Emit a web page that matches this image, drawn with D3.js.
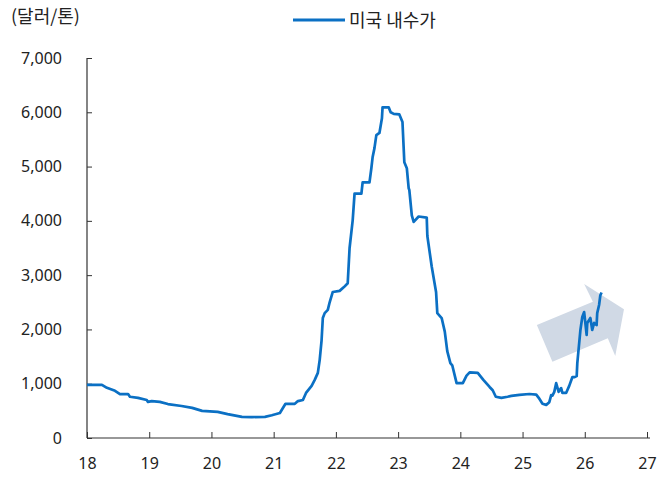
<!DOCTYPE html>
<html>
<head>
<meta charset="utf-8">
<script src="https://cdn.jsdelivr.net/npm/d3@7"></script>
<style>
  html, body { margin: 0; padding: 0; background: #fff; }
  svg { display: block; }
  text { font-family: "Noto Sans CJK KR", "Noto Sans", sans-serif; fill: #222; }
</style>
</head>
<body>
<svg id="chart" width="670" height="480"></svg>
<script>
// ---- data ----
const seriesName = "미국 내수가";
const unitLabel = "(달러/톤)";
const xTicks = [18, 19, 20, 21, 22, 23, 24, 25, 26, 27];
const yTicks = [0, 1000, 2000, 3000, 4000, 5000, 6000, 7000];
// time (year, 2-digit) and price (USD/ton)
const years = [18.00,18.24,18.32,18.45,18.53,18.66,18.69,18.82,18.96,18.98,19.04,19.17,19.30,19.52,19.69,19.85,20.10,20.26,20.49,20.65,20.86,20.97,21.10,21.19,21.34,21.39,21.47,21.52,21.61,21.66,21.71,21.74,21.77,21.79,21.82,21.87,21.90,21.95,22.06,22.13,22.19,22.21,22.22,22.27,22.30,22.41,22.43,22.54,22.57,22.59,22.62,22.65,22.70,22.74,22.75,22.85,22.88,22.93,23.02,23.07,23.10,23.14,23.17,23.18,23.22,23.25,23.33,23.46,23.47,23.54,23.61,23.63,23.70,23.75,23.79,23.84,23.87,23.94,24.04,24.10,24.15,24.28,24.37,24.47,24.52,24.57,24.66,24.76,24.82,24.95,25.11,25.22,25.26,25.32,25.38,25.43,25.46,25.48,25.51,25.54,25.58,25.62,25.64,25.70,25.75,25.80,25.83,25.87,25.88,25.93,25.96,25.99,26.03,26.04,26.09,26.12,26.15,26.19,26.20,26.23,26.25,26.27];
const prices = [980,980,925,870,810,810,760,740,700,665,680,665,625,590,555,500,480,440,390,385,390,420,460,630,630,680,700,830,960,1070,1200,1440,1800,2210,2300,2360,2500,2690,2710,2780,2850,3280,3500,4010,4500,4500,4710,4710,4970,5170,5340,5580,5620,5890,6090,6090,6000,5970,5960,5820,5080,4970,4600,4570,4100,3980,4080,4060,3720,3160,2690,2300,2210,1960,1600,1380,1340,1010,1010,1150,1210,1200,1070,940,880,760,740,760,775,795,810,800,740,630,610,660,790,780,850,1010,850,920,830,830,960,1120,1120,1140,1380,1990,2230,2320,1900,2120,2210,1990,2120,2080,2300,2450,2630,2680];
// trend arrow annotation (in data units: year, price)
const arrowYears  = [25.23, 26.13, 25.99, 26.63, 26.49, 26.37, 25.48];
const arrowPrices = [2081, 2510, 2836, 2370, 1510, 1836, 1405];

// ---- layout ----
const svg = d3.select("#chart");
const mLeft = 87, mRight = 647, mTop = 58, mBottom = 438;
const x = d3.scaleLinear().domain([18, 27]).range([mLeft, mRight]);
const y = d3.scaleLinear().domain([0, 7000]).range([mBottom, mTop]);

// arrow
const arrowPts = arrowYears.map((d, i) => [x(d), y(arrowPrices[i])]);
svg.append("path")
  .attr("d", "M" + arrowPts.map(p => p.join(",")).join("L") + "Z")
  .attr("fill", "#d0d9e5");

// axes
const yAxis = svg.append("g")
  .attr("transform", `translate(${mLeft},0)`)
  .call(d3.axisLeft(y).tickValues(yTicks).tickSize(-5).tickPadding(25)
    .tickFormat(d3.format(",")));
const xAxis = svg.append("g")
  .attr("transform", `translate(0,${mBottom})`)
  .call(d3.axisBottom(x).tickValues(xTicks).tickSize(-6).tickPadding(20)
    .tickFormat(d => d));
[yAxis, xAxis].forEach(g => {
  g.select(".domain").attr("stroke", "#333").attr("stroke-width", 1.2);
  g.selectAll(".tick line").attr("stroke", "#333");
  g.selectAll(".tick text").attr("font-size", 16).attr("fill", "#222")
    .style("font-family", '"Noto Sans", sans-serif');
});
yAxis.select(".domain").attr("d", `M0,${mBottom}V${mTop}`);
xAxis.select(".domain").attr("d", `M${mLeft},0H${mRight + 3}`);

// line
const line = d3.line().x((d, i) => x(years[i])).y(d => y(d));
svg.append("path")
  .datum(prices)
  .attr("d", line)
  .attr("fill", "none")
  .attr("stroke", "#0b70c4")
  .attr("stroke-width", 2.7)
  .attr("stroke-linejoin", "round");

// unit label
svg.append("text").attr("x", 11).attr("y", 23)
  .attr("font-size", 18).text(unitLabel);

// legend
svg.append("line").attr("x1", 293).attr("x2", 345).attr("y1", 20).attr("y2", 20)
  .attr("stroke", "#0b70c4").attr("stroke-width", 2.8);
svg.append("text").attr("x", 349).attr("y", 27)
  .attr("font-size", 18).text(seriesName);
</script>
</body>
</html>
